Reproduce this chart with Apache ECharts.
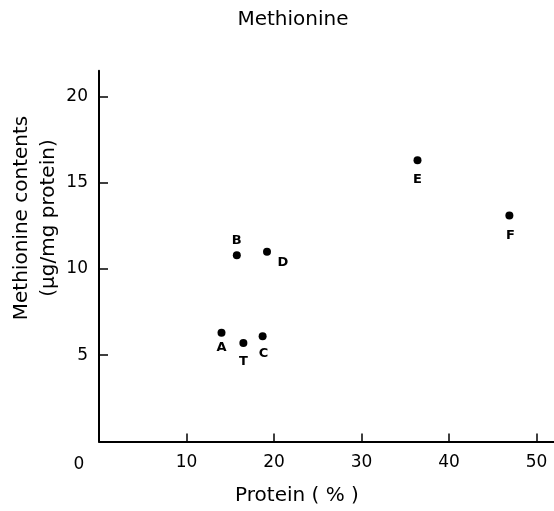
<!DOCTYPE html>
<html>
<head>
<meta charset="utf-8">
<script src="https://cdn.jsdelivr.net/npm/echarts@6/dist/echarts.min.js"></script>
<style>
html,body{margin:0;padding:0;background:#fff;}
#chart{width:554px;height:511px;}
</style>
</head>
<body>
<div id="chart"></div>
<script>
// ---- data ----
var pointNames = ['A', 'T', 'C', 'B', 'D', 'E', 'F'];
var proteinPct = [14.0, 16.5, 18.7, 15.75, 19.2, 36.4, 46.9];
var methionineContent = [6.3, 5.7, 6.1, 10.8, 11.0, 16.3, 13.1];
var xTickValues = [0, 10, 20, 30, 40, 50];
var yTickValues = [5, 10, 15, 20];
var titleText = 'Methionine';
var xAxisName = 'Protein ( % )';
var yAxisNameLines = ['Methionine contents', '(μg/mg protein)'];

// label placement (style only)
var labelOffsets = {
  A: [0, 15], T: [0, 19], C: [1, 17], B: [0, -15],
  D: [16, 11], E: [0, 19], F: [1, 20]
};

var FONT = 'DejaVu Sans';
var INK = '#000';

var chart = echarts.init(document.getElementById('chart'), null, {renderer: 'canvas'});

var seriesData = pointNames.map(function (n, i) {
  var off = labelOffsets[n];
  return {
    name: n,
    value: [proteinPct[i], methionineContent[i]],
    label: {
      show: true,
      position: 'inside',
      offset: off,
      formatter: n,
      fontFamily: FONT,
      fontWeight: 'bold',
      fontSize: 13,
      color: INK
    }
  };
});

var option = {
  animation: false,
  backgroundColor: '#fff',
  title: {
    text: titleText,
    left: 288,
    top: 5,
    textAlign: 'center',
    textStyle: {fontFamily: FONT, fontSize: 20, fontWeight: 'normal', color: INK}
  },
  grid: {left: 99, top: 70.7, width: 456, height: 370.7, containLabel: false},
  xAxis: {
    type: 'value',
    min: 0, max: 52, interval: 10,
    name: xAxisName,
    nameLocation: 'middle',
    nameGap: 44,
    nameTextStyle: {fontFamily: FONT, fontSize: 20, color: INK, padding: [0, 59, 0, 0]},
    splitLine: {show: false},
    axisLine: {show: true, onZero: false, lineStyle: {color: INK, width: 2}},
    axisTick: {show: true, inside: true, length: 8, customValues: xTickValues.slice(1), lineStyle: {color: INK, width: 1.5}},
    axisLabel: {
      show: true,
      customValues: xTickValues,
      margin: 13,
      fontFamily: FONT, fontSize: 17, color: INK,
      formatter: function (v) { return v === 0 ? '{z|0}' : String(v); },
      rich: {z: {fontFamily: FONT, fontSize: 17, color: INK, padding: [2, 40, 0, 0]}}
    }
  },
  yAxis: {
    type: 'value',
    min: 0, max: 21.5, interval: 5,
    splitLine: {show: false},
    axisLine: {show: true, onZero: false, lineStyle: {color: INK, width: 2}},
    axisTick: {show: true, inside: true, length: 9, customValues: yTickValues, lineStyle: {color: INK, width: 1.5}},
    axisLabel: {
      show: true,
      customValues: yTickValues,
      margin: 11,
      fontFamily: FONT, fontSize: 17, color: INK
    }
  },
  graphic: [{
    type: 'text',
    x: 35,
    y: 218,
    rotation: Math.PI / 2,
    style: {
      text: yAxisNameLines.join('\n'),
      fontFamily: FONT,
      fontSize: 20,
      lineHeight: 26.6,
      fill: INK,
      textAlign: 'center',
      textVerticalAlign: 'middle'
    }
  }],
  series: [{
    type: 'scatter',
    symbol: 'circle',
    symbolSize: 8,
    itemStyle: {color: INK, opacity: 1},
    emphasis: {disabled: true},
    data: seriesData
  }]
};
chart.setOption(option);
</script>
</body>
</html>
